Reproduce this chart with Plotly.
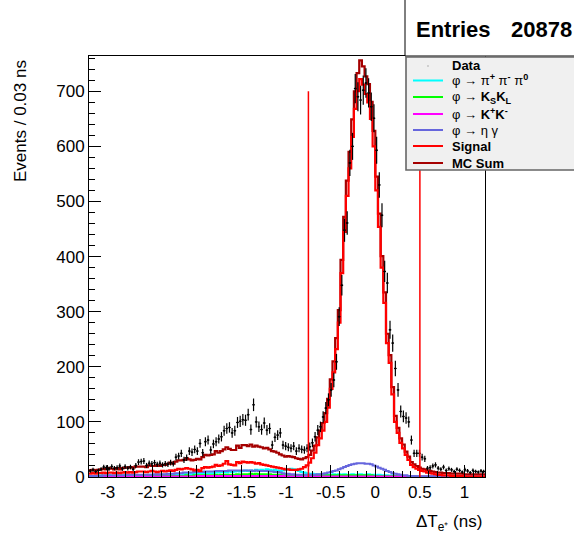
import numpy as np
import plotly.graph_objects as go

# Histogram binning: 0.03 ns bins
BIN_WIDTH = 0.03
X_LOW = -3.21
N_BINS = 148
Y_MAX = 764

# Measured events per bin
data_counts = [
    11, 13, 10, 12, 14, 18, 17, 15, 19, 16,
    17, 20, 15, 19, 16, 18, 14, 21, 27, 28,
    29, 21, 25, 24, 26, 23, 25, 22, 24, 23,
    26, 24, 36, 38, 43, 31, 35, 47, 45, 50,
    47, 61, 44, 64, 67, 49, 60, 64, 69, 73,
    84, 88, 90, 80, 84, 99, 101, 104, 103, 113,
    86, 131, 100, 91, 86, 98, 85, 88, 58, 72,
    76, 80, 58, 56, 54, 52, 56, 47, 52, 50,
    49, 52, 55, 62, 73, 85, 91, 109, 125, 140,
    158, 176, 209, 291, 348, 448, 461, 570, 600, 705,
    690, 684, 702, 715, 697, 672, 651, 593, 530, 475,
    373, 352, 267, 243, 197, 158, 119, 110, 107, 100,
    67, 43, 43, 43, 36, 33, 16, 17, 20, 22,
    16, 14, 18, 12, 15, 13, 10, 14, 12, 9,
    13, 11, 8, 12, 10, 9, 11, 10,
]

# Signal MC
signal = [
    6, 7, 6, 7, 7, 8, 7, 8, 8, 7,
    8, 7, 8, 9, 8, 9, 8, 9, 10, 10,
    10, 9, 10, 11, 10, 9, 10, 11, 10, 11,
    12, 11, 13, 15, 14, 15, 16, 15, 14, 12,
    13, 11, 16, 18, 17, 18, 19, 22, 20, 21,
    24, 29, 23, 22, 21, 27, 25, 28, 27, 26,
    27, 26, 24, 25, 23, 22, 21, 20, 19, 18,
    17, 16, 15, 14, 14, 13, 13, 13, 14, 15,
    18, 21, 26, 34, 44, 58, 70, 84, 100, 126,
    160, 190, 232, 280, 370, 445, 510, 560, 617, 668,
    700, 722, 712, 695, 680, 650, 600, 520, 454, 380,
    316, 243, 207, 150, 100, 80, 62, 52, 40, 31,
    22, 18, 15, 13, 11, 10, 8, 7, 6, 5,
    4, 4, 3, 3, 3, 2, 2, 2, 2, 2,
    1, 1, 1, 1, 1, 1, 1, 1,
]

# phi -> pi+ pi- pi0 background
pipipi0 = [
    2, 2, 2, 2, 3, 2, 2, 3, 2, 2,
    3, 2, 3, 3, 2, 3, 3, 3, 3, 3,
    3, 3, 4, 3, 3, 4, 3, 4, 4, 4,
    5, 4, 5, 5, 6, 5, 6, 6, 5, 6,
    6, 7, 6, 7, 7, 7, 7, 8, 8, 9,
    9, 8, 10, 9, 10, 11, 10, 11, 12, 11,
    12, 11, 13, 12, 13, 12, 14, 13, 12, 13,
    12, 11, 12, 13, 14, 15, 14, 13, 11, 9,
    8, 7, 6, 6, 5, 5, 5, 4, 5, 4,
    4, 5, 4, 5, 4, 5, 4, 4, 5, 4,
    4, 5, 4, 4, 5, 4, 4, 3, 4, 3,
    3, 3, 2, 3, 2, 2, 2, 2, 1, 2,
    1, 1, 2, 1, 1, 1, 1, 1, 1, 1,
    1, 1, 1, 1, 1, 1, 1, 1, 1, 1,
    1, 1, 1, 1, 1, 1, 1, 1,
]

# phi -> KS KL background
kskl = [
    1, 1, 1, 1, 1, 1, 1, 1, 1, 1,
    1, 1, 1, 1, 2, 1, 1, 2, 1, 1,
    1, 1, 2, 1, 1, 2, 1, 1, 2, 2,
    2, 2, 2, 2, 2, 2, 3, 2, 2, 3,
    3, 3, 3, 3, 3, 3, 3, 4, 3, 4,
    4, 4, 4, 4, 4, 5, 4, 5, 5, 5,
    6, 5, 6, 5, 5, 5, 5, 5, 4, 4,
    4, 4, 3, 3, 3, 3, 3, 3, 3, 3,
    3, 3, 3, 3, 3, 3, 3, 3, 3, 3,
    3, 3, 3, 3, 3, 3, 3, 3, 3, 3,
    3, 3, 3, 3, 3, 3, 2, 2, 2, 2,
    2, 2, 2, 2, 2, 1, 1, 1, 1, 1,
    1, 1, 1, 1, 1, 1, 1, 1, 1, 1,
    1, 1, 1, 1, 1, 1, 1, 1, 1, 1,
    1, 1, 1, 1, 1, 1, 1, 1,
]

# phi -> K+ K- background
kpkm = [
    1, 1, 1, 1, 1, 1, 1, 1, 1, 1,
    1, 1, 1, 1, 1, 1, 1, 1, 1, 1,
    1, 1, 1, 1, 1, 1, 1, 1, 1, 1,
    1, 1, 1, 1, 1, 1, 1, 1, 1, 1,
    2, 2, 2, 2, 2, 2, 2, 2, 2, 2,
    2, 2, 2, 2, 2, 2, 2, 2, 2, 2,
    2, 2, 2, 2, 2, 2, 2, 2, 2, 2,
    2, 2, 2, 1, 1, 1, 1, 1, 1, 1,
    1, 1, 1, 1, 1, 1, 1, 1, 1, 1,
    1, 1, 1, 1, 1, 1, 1, 1, 1, 1,
    1, 1, 1, 1, 1, 1, 1, 1, 1, 1,
    1, 1, 1, 1, 1, 1, 1, 1, 1, 1,
    1, 1, 1, 1, 1, 1, 1, 1, 1, 1,
    1, 1, 1, 1, 1, 1, 1, 1, 1, 1,
    1, 1, 1, 1, 1, 1, 1, 1,
]

# phi -> eta gamma background
etagamma = [
    2, 2, 2, 2, 2, 3, 3, 3, 3, 3,
    3, 3, 3, 3, 4, 4, 4, 4, 4, 4,
    4, 4, 4, 4, 5, 5, 5, 5, 5, 6,
    6, 6, 7, 7, 7, 8, 8, 8, 8, 9,
    9, 9, 9, 10, 10, 10, 10, 11, 11, 11,
    11, 11, 12, 12, 12, 12, 12, 12, 12, 12,
    12, 11, 12, 11, 11, 11, 11, 10, 10, 9,
    9, 8, 7, 6, 6, 5, 5, 4, 4, 4,
    4, 4, 4, 4, 4, 5, 5, 6, 7, 8,
    9, 11, 12, 14, 16, 18, 20, 22, 23, 24,
    25, 25, 25, 24, 24, 23, 21, 19, 17, 15,
    13, 11, 9, 7, 6, 5, 4, 3, 3, 2,
    2, 2, 1, 1, 1, 1, 1, 1, 1, 1,
    1, 1, 1, 1, 1, 1, 1, 1, 1, 1,
    1, 1, 1, 1, 1, 1, 1, 1,
]

# Selection window on Delta T
cut_edges = [-0.75, 0.5]
cut_height = 700

x_tick_vals = [-3, -2.5, -2, -1.5, -1, -0.5, 0, 0.5, 1]
x_tick_text = ["-3", "-2.5", "-2", "-1.5", "-1", "-0.5", "0", "0.5", "1"]
y_tick_vals = [0, 100, 200, 300, 400, 500, 600, 700]
y_tick_text = [str(v) for v in y_tick_vals]

entries = 20878

# ---------------------------------------------------------------------------
edges = X_LOW + BIN_WIDTH * np.arange(N_BINS + 1)
centers = edges[:-1] + BIN_WIDTH / 2
components = [np.array(c, dtype=float) for c in (signal, pipipi0, kskl, kpkm, etagamma)]
mc_sum = np.sum(components, axis=0)

W, H = 574, 542
L, R, T, B = 89, 485, 56, 477
FONT = "Liberation Sans, Arial, Helvetica, sans-serif"


def px(x):
    return (x - L) / (R - L)


def py(y):
    return (B - y) / (B - T)


def step_trace(values, color, width=2.0):
    vals = np.asarray(values, dtype=float)
    return go.Scatter(
        x=edges, y=np.append(vals, vals[-1]), mode="lines",
        line=dict(shape="hv", color=color, width=width),
        hoverinfo="skip", showlegend=False,
    )


COL_MC = "#a50000"
COL_SIG = "#ff0000"
COL_PPP = "#00ffff"
COL_KSKL = "#00ff00"
COL_KPKM = "#ff00ff"
COL_EG = "#6666dd"

fig = go.Figure()
fig.add_trace(step_trace(mc_sum, COL_MC, 2.2))
fig.add_trace(step_trace(pipipi0, COL_PPP, 2))
fig.add_trace(step_trace(kskl, COL_KSKL, 2))
fig.add_trace(step_trace(kpkm, COL_KPKM, 2))
fig.add_trace(step_trace(etagamma, COL_EG, 2))
fig.add_trace(step_trace(signal, COL_SIG, 2.2))

counts = np.array(data_counts, dtype=float)
fig.add_trace(go.Scatter(
    x=centers, y=counts, mode="markers",
    marker=dict(color="black", size=2),
    error_y=dict(type="data", array=np.sqrt(counts), thickness=1.2, width=0, color="black"),
    error_x=dict(type="constant", value=BIN_WIDTH / 2, thickness=1, width=0, color="black"),
    hoverinfo="skip", showlegend=False,
))

shapes = []
for xc in cut_edges:
    shapes.append(dict(type="line", xref="x", yref="y", x0=xc, x1=xc, y0=0, y1=cut_height,
                       line=dict(color=COL_SIG, width=1.5), layer="above"))

# statistics box and legend box
shapes.append(dict(type="rect", xref="paper", yref="paper",
                   x0=px(405), x1=px(590), y0=py(56), y1=py(-5),
                   fillcolor="white", line=dict(color="black", width=1), layer="above"))
shapes.append(dict(type="rect", xref="paper", yref="paper",
                   x0=px(406), x1=px(590), y0=py(170), y1=py(57),
                   fillcolor="#f0f0f0", line=dict(color="#666666", width=1.6), layer="above"))

annotations = [
    dict(text="<b>Entries</b>", x=px(414), y=py(29), xref="paper", yref="paper",
         xanchor="left", yanchor="middle", showarrow=False,
         font=dict(family=FONT, size=22, color="black")),
    dict(text=f"<b>{entries}</b>", x=px(574), y=py(29), xref="paper", yref="paper",
         xanchor="right", yanchor="middle", showarrow=False,
         font=dict(family=FONT, size=22, color="black")),
]

legend_rows = [
    ("<b>Data</b>", None, 66),
    ("φ → π<sup><b>+</b></sup> π<sup><b>-</b></sup> π<sup><b>0</b></sup>", COL_PPP, 80.5),
    ("φ → <b>K<sub>S</sub>K<sub>L</sub></b>", COL_KSKL, 97),
    ("φ → <b>K<sup>+</sup>K<sup>-</sup></b>", COL_KPKM, 114),
    ("φ → η γ", COL_EG, 130),
    ("<b>Signal</b>", COL_SIG, 146),
    ("<b>MC Sum</b>", COL_MC, 163),
]
for text, col, yrow in legend_rows:
    if col is None:
        shapes.append(dict(type="circle", xref="paper", yref="paper",
                           x0=px(427.3), x1=px(428.7), y0=py(66.7), y1=py(65.3),
                           fillcolor="#999999", line=dict(width=0), layer="above"))
    else:
        shapes.append(dict(type="line", xref="paper", yref="paper",
                           x0=px(413), x1=px(443), y0=py(yrow), y1=py(yrow),
                           line=dict(color=col, width=2), layer="above"))
    annotations.append(dict(text=text, x=px(450), y=py(yrow), xref="paper", yref="paper",
                            xanchor="left", yanchor="middle", showarrow=False,
                            font=dict(family=FONT, size=13, color="black")))

# axis titles
annotations.append(dict(text="Events / 0.03 ns", x=px(21), y=py(121), xref="paper", yref="paper",
                        textangle=-90, xanchor="center", yanchor="middle", showarrow=False,
                        font=dict(family=FONT, size=17, color="black")))
annotations.append(dict(text="ΔT<sub>e⁺</sub> (ns)", x=px(484), y=py(523), xref="paper", yref="paper",
                        xanchor="right", yanchor="middle", showarrow=False,
                        font=dict(family=FONT, size=17, color="black")))

fig.update_layout(
    width=W, height=H,
    margin=dict(l=L, r=W - R, t=T, b=H - B, pad=0),
    paper_bgcolor="white", plot_bgcolor="white",
    showlegend=False,
    shapes=shapes, annotations=annotations,
    font=dict(family=FONT, size=17, color="black"),
    xaxis=dict(
        range=[X_LOW, X_LOW + N_BINS * BIN_WIDTH],
        showgrid=False, zeroline=False,
        showline=True, linecolor="black", linewidth=1, mirror=True,
        ticks="inside", ticklen=12, tickcolor="black", tickwidth=1,
        tickmode="array", tickvals=x_tick_vals, ticktext=x_tick_text,
        minor=dict(ticks="inside", ticklen=6, tickcolor="black", tickwidth=1,
                   tickmode="linear", tick0=0, dtick=0.1, showgrid=False),
        tickfont=dict(family=FONT, size=17, color="black"),
    ),
    yaxis=dict(
        range=[0, Y_MAX],
        showgrid=False, zeroline=False,
        showline=True, linecolor="black", linewidth=1, mirror=True,
        ticks="inside", ticklen=12, tickcolor="black", tickwidth=1,
        tickmode="array", tickvals=y_tick_vals, ticktext=y_tick_text,
        minor=dict(ticks="inside", ticklen=6, tickcolor="black", tickwidth=1,
                   tickmode="linear", tick0=0, dtick=20, showgrid=False),
        tickfont=dict(family=FONT, size=17, color="black"),
    ),
)

fig.write_html("out.html")
